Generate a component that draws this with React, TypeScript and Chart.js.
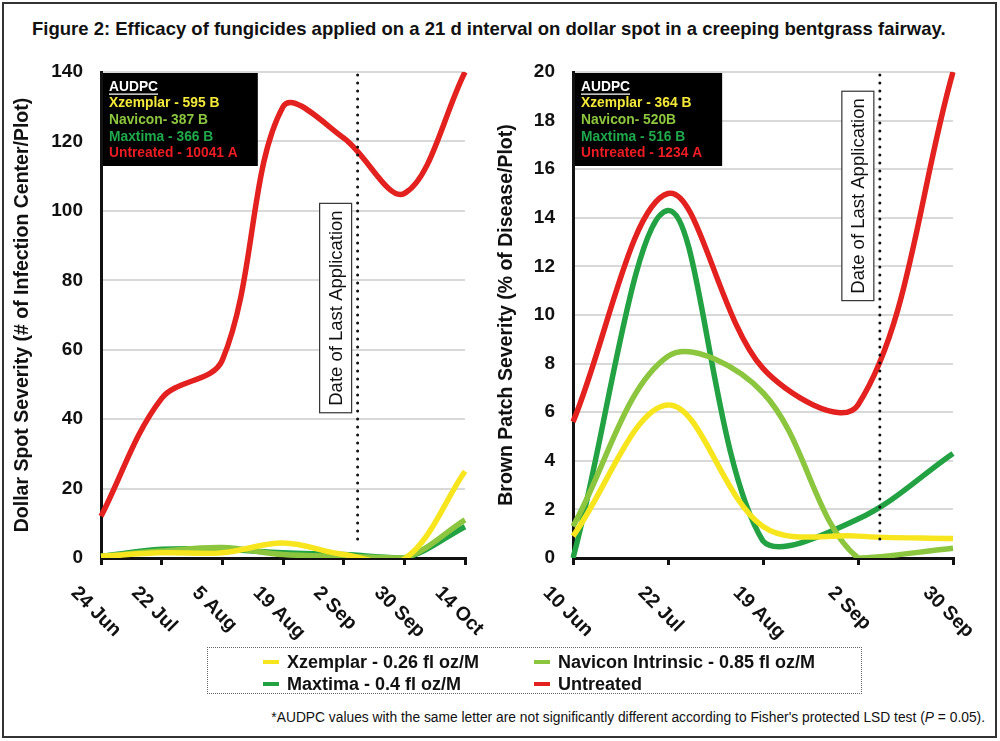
import React, { useEffect, useRef } from 'react';
import { Chart, registerables } from 'chart.js';

Chart.register(...registerables);

const FONT = '"Liberation Sans", Arial, Helvetica, sans-serif';

// ---------- DATA ----------
const seriesNames = ['Xzemplar - 0.26 fl oz/M', 'Navicon Intrinsic - 0.85 fl oz/M', 'Maxtima - 0.4 fl oz/M', 'Untreated'];
const seriesColors = ['#f7e51d', '#8cc63f', '#22a243', '#e3211f'];
const audpcColors = ['#ffffff', '#f4e93a', '#8dc63f', '#1fa94b', '#ed1c24'];

// Dollar spot (left)
const dsDates = ['24 Jun', '22 Jul', '5 Aug', '19 Aug', '2 Sep', '30 Sep', '14 Oct'];
const dsXzemplar = [0.5, 1.5, 1.5, 4.3, 1, -0.3, 25];
const dsNavicon = [0.5, 2, 3, 1, 0.5, 0, 11];
const dsMaxtima = [0.5, 2.5, 2.5, 1.5, 1, 0, 9];
const dsUntreated = [12, 46, 57, 130, 121, 105, 140];
const dsAudpc = ['AUDPC', 'Xzemplar - 595 B', 'Navicon- 387 B', 'Maxtima - 366 B', 'Untreated - 10041 A'];
const dsYMax = 140;
const dsYStep = 20;
const dsLastApplication = 4.23; // position on the category axis
const dsBoxValue = 72;

// Brown patch (right)
const bpDates = ['10 Jun', '22 Jul', '19 Aug', '2 Sep', '30 Sep'];
const bpXzemplar = [0.9, 6.3, 1.3, 0.9, 0.8];
const bpNavicon = [1.3, 8.3, 6.8, 0, 0.4];
const bpMaxtima = [0, 14.3, 0.7, 1.6, 4.3];
const bpUntreated = [5.6, 15, 7.8, 6.3, 20];
const bpAudpc = ['AUDPC', 'Xzemplar - 364 B', 'Navicon- 520B', 'Maxtima - 516 B', 'Untreated - 1234 A'];
const bpYMax = 20;
const bpYStep = 2;
const bpLastApplication = 3.23;
const bpBoxValue = 14.9;

type PanelProps = {
  left: number;
  width: number;
  height: number;
  areaLeft: number;
  areaRight: number;
  areaTop: number;
  areaBottom: number;
  labels: string[];
  series: number[][];
  yMax: number;
  yStep: number;
  yTitle: string;
  titlePad: number;
  audpc: string[];
  lastApp: number;
  boxValue: number;
};

function Panel(p: PanelProps) {
  const ref = useRef<HTMLCanvasElement | null>(null);
  useEffect(() => {
    if (!ref.current) return;
    const decor = {
      id: 'decor',
      afterDraw(chart: any) {
        const { ctx, chartArea } = chart;
        const xs = chart.scales.x;
        const ys = chart.scales.y;
        // dotted line
        const lx = xs.getPixelForValue(p.lastApp);
        ctx.save();
        ctx.strokeStyle = '#111';
        ctx.lineWidth = 3;
        ctx.lineCap = 'round';
        ctx.setLineDash([0, 8]);
        ctx.beginPath();
        ctx.moveTo(lx, chartArea.top + 3);
        ctx.lineTo(lx, chartArea.bottom - 12);
        ctx.stroke();
        ctx.restore();
        // date of last application box
        ctx.save();
        const boxText = 'Date of Last Application';
        ctx.font = `18.5px ${FONT}`;
        const tw = ctx.measureText(boxText).width;
        const bh = tw + 14;
        const bw = 32;
        const cy = ys.getPixelForValue(p.boxValue);
        const bx = lx - 6 - bw;
        ctx.fillStyle = '#fff';
        ctx.fillRect(bx, cy - bh / 2, bw, bh);
        ctx.strokeStyle = '#333';
        ctx.lineWidth = 1.2;
        ctx.strokeRect(bx, cy - bh / 2, bw, bh);
        ctx.translate(bx + bw / 2, cy);
        ctx.rotate(-Math.PI / 2);
        ctx.fillStyle = '#111';
        ctx.textAlign = 'center';
        ctx.textBaseline = 'middle';
        ctx.fillText(boxText, 0, 1);
        ctx.restore();
        // AUDPC box
        ctx.save();
        ctx.font = `bold 13.8px ${FONT}`;
        let maxW = 0;
        p.audpc.forEach((t) => { maxW = Math.max(maxW, ctx.measureText(t).width); });
        const ax = chartArea.left + 2;
        const ay = chartArea.top + 1;
        ctx.fillStyle = '#000';
        ctx.fillRect(ax, ay, maxW + 26, 93);
        ctx.textBaseline = 'middle';
        ctx.textAlign = 'left';
        p.audpc.forEach((t, i) => {
          ctx.fillStyle = audpcColors[i];
          const ty = ay + 13.7 + i * 16.67;
          ctx.fillText(t, ax + 6, ty);
          if (i === 0) {
            const w = ctx.measureText(t).width;
            ctx.strokeStyle = '#fff';
            ctx.lineWidth = 1.3;
            ctx.beginPath();
            ctx.moveTo(ax + 6, ty + 7.5);
            ctx.lineTo(ax + 6 + w, ty + 7.5);
            ctx.stroke();
          }
        });
        ctx.restore();
        // x labels rotated
        ctx.save();
        ctx.font = `bold 19.5px ${FONT}`;
        ctx.fillStyle = '#111';
        ctx.textAlign = 'left';
        ctx.textBaseline = 'middle';
        chart.data.labels.forEach((lab: string, i: number) => {
          const x = xs.getPixelForTick(i);
          ctx.save();
          ctx.translate(x - 27, chartArea.bottom + 32);
          ctx.rotate(Math.PI / 4);
          ctx.fillText(lab, 0, 0);
          ctx.restore();
        });
        ctx.restore();
      },
    };
    const chart = new Chart(ref.current, {
      type: 'line',
      data: {
        labels: p.labels,
        datasets: p.series.map((d, i) => ({
          label: seriesNames[i],
          data: d,
          borderColor: seriesColors[i],
          backgroundColor: seriesColors[i],
          borderWidth: 5.5,
          pointRadius: 0,
          tension: 0.35,
          fill: false,
        })),
      },
      options: {
        animation: false,
        responsive: false,
        maintainAspectRatio: false,
        layout: { padding: { top: p.areaTop, right: p.left + p.width - p.areaRight, bottom: 0, left: 0 } },
        plugins: { legend: { display: false }, tooltip: { enabled: false } },
        scales: {
          x: {
            type: 'category',
            offset: false,
            grid: { display: true, offset: false, drawOnChartArea: false, drawTicks: true, tickLength: 7, color: '#111', lineWidth: 3 },
            border: { display: true, color: '#111', width: 3 },
            ticks: { display: false },
            afterFit: (s: any) => { s.height = p.height - p.areaBottom; },
          },
          y: {
            min: 0,
            max: p.yMax,
            ticks: { stepSize: p.yStep, padding: 18, color: '#111', font: { family: FONT, size: 19, weight: 'bold' } },
            grid: { color: '#d9d9d9', lineWidth: 2, drawTicks: false },
            border: { display: true, color: '#111', width: 3 },
            title: {
              display: true,
              text: p.yTitle,
              color: '#111',
              font: { family: FONT, size: 19.5, weight: 'bold' },
              padding: { top: p.titlePad, bottom: 0 },
            },
            afterFit: (s: any) => { s.width = p.areaLeft - p.left; },
          },
        },
      } as any,
      plugins: [decor],
    });
    return () => chart.destroy();
  }, []);
  return (
    <canvas
      ref={ref}
      width={p.width}
      height={p.height}
      style={{ position: 'absolute', left: p.left, top: 0, width: p.width, height: p.height }}
    />
  );
}

export default function App() {
  return (
    <div style={{ position: 'absolute', left: 0, top: 0, width: 1000, height: 741, background: '#fff', fontFamily: FONT, color: '#111' }}>
      <div style={{ position: 'absolute', left: 2, top: 2, width: 995, height: 736, border: '2px solid #333', boxSizing: 'border-box' }} />
      <div style={{ position: 'absolute', left: 32, top: 20, fontSize: 18.5, fontWeight: 'bold', lineHeight: 1, whiteSpace: 'nowrap' }}>
        Figure 2: Efficacy of fungicides applied on a 21 d interval on dollar spot in a creeping bentgrass fairway.
      </div>
      <Panel
        left={0}
        width={490}
        height={650}
        areaLeft={101}
        areaRight={465}
        areaTop={72}
        areaBottom={558}
        labels={dsDates}
        series={[dsXzemplar, dsNavicon, dsMaxtima, dsUntreated]}
        yMax={dsYMax}
        yStep={dsYStep}
        yTitle="Dollar Spot Severity (# of Infection Center/Plot)"
        titlePad={10.5}
        audpc={dsAudpc}
        lastApp={dsLastApplication}
        boxValue={dsBoxValue}
      />
      <Panel
        left={490}
        width={510}
        height={650}
        areaLeft={573}
        areaRight={953}
        areaTop={72}
        areaBottom={558}
        labels={bpDates}
        series={[bpXzemplar, bpNavicon, bpMaxtima, bpUntreated]}
        yMax={bpYMax}
        yStep={bpYStep}
        yTitle="Brown Patch Severity (% of Disease/Plot)"
        titlePad={5}
        audpc={bpAudpc}
        lastApp={bpLastApplication}
        boxValue={bpBoxValue}
      />
      <div style={{ position: 'absolute', left: 207, top: 647, width: 655, height: 47, border: '1.5px dotted #666', boxSizing: 'border-box' }}>
        {seriesNames.map((n, i) => (
          <div
            key={n}
            style={{
              position: 'absolute',
              left: i % 2 === 0 ? 55 : 326,
              top: i < 2 ? 4 : 26,
              height: 20,
              display: 'flex',
              alignItems: 'center',
              whiteSpace: 'nowrap',
              fontSize: 18,
              fontWeight: 'bold',
            }}
          >
            <span style={{ display: 'inline-block', width: 16, height: 4, background: seriesColors[i], marginRight: 8 }} />
            {n}
          </div>
        ))}
      </div>
      <div style={{ position: 'absolute', right: 15, top: 711, fontSize: 13.8, whiteSpace: 'nowrap', lineHeight: 1 }}>
        *AUDPC values with the same letter are not significantly different according to Fisher's protected LSD test (<i>P</i> = 0.05).
      </div>
    </div>
  );
}
